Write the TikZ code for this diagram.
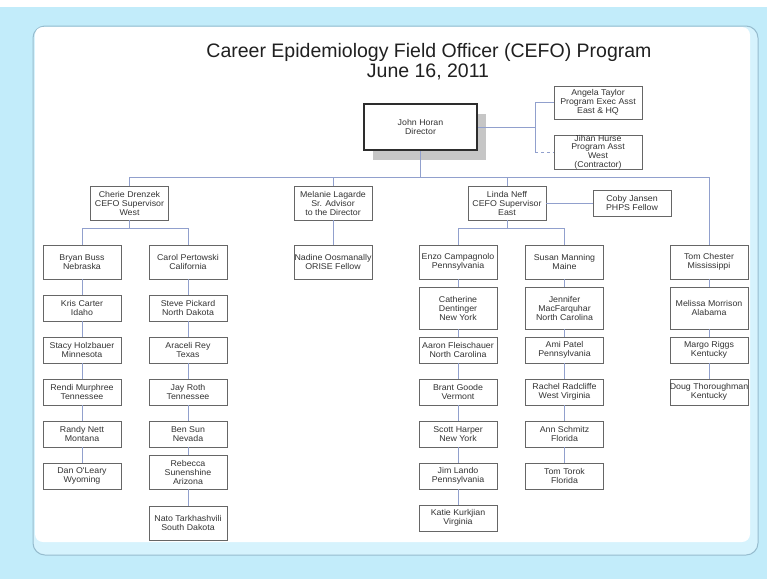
\documentclass[tikz,border=0pt]{standalone}
\usepackage{fontspec}
\setmainfont{Liberation Sans}
\newfontfamily\boxfont[FakeStretch=1.05]{Liberation Sans}
\usepackage{tikz}
\usetikzlibrary{positioning,shadows}
\definecolor{bgblue}{RGB}{194,236,250}
\definecolor{bandblue}{RGB}{214,243,253}
\definecolor{rimblue}{RGB}{150,188,206}
\definecolor{linkblue}{RGB}{145,160,205}
\tikzstyle{person} = [rectangle, draw=gray!80!black, fill=white, align=center,
    text=gray!40!black, minimum width=78pt, minimum height=26pt,
    inner xsep=0pt, inner ysep=1pt,
    font=\boxfont\fontsize{8.4}{9}\selectfont]
\tikzstyle{lead} = [person, minimum height=34pt]
\tikzstyle{tall} = [person, minimum height=42pt]
\tikzstyle{chief} = [person, draw=gray!35!black, line width=2.4pt,
    minimum width=113pt, minimum height=46pt,
    drop shadow={shadow xshift=9pt, shadow yshift=-10pt, fill=gray!45, opacity=1}]
\tikzstyle{link} = [draw=linkblue, line width=0.8pt]
\tikzstyle{heading} = [anchor=base, font=\fontsize{19.5}{22}\selectfont, text=gray!25!black]

\begin{document}
\begin{tikzpicture}[x=1pt, y=-1pt, node distance=42pt]
  \useasboundingbox (0,0) rectangle (767,579);
  % Background and panel
  \fill[white] (0,0) rectangle (767,7);
  \fill[bgblue] (0,7) rectangle (767,579);
  \draw[rimblue, fill=bandblue, line width=1pt, rounded corners=12pt] (33,26) rectangle (758,555);
  \fill[white, rounded corners=8pt] (35,27) rectangle (750,542);
  % Title
  \node [heading] (title) at (429,57) {Career Epidemiology Field Officer (CEFO) Program};
  \node [heading] (date) at (428,77) {June 16, 2011};
  % Place nodes
  \node [chief] (horan) at (420.5,127) {John Horan\\Director};
  \node [person, minimum width=88pt, minimum height=33pt] (taylor) at (598,102.5)
  {Angela Taylor\\Program Exec Asst\\East \& HQ};
  \node [person, minimum width=88pt, minimum height=34pt, inner ysep=0pt,
  font=\boxfont\fontsize{8.4}{8.6}\selectfont] (hurse) at (598,152)
  {Jihan Hurse\\Program Asst\\West\\(Contractor)};
  \node [lead] (drenzek) at (129.5,203) {Cherie Drenzek\\CEFO Supervisor\\West};
  \node [lead] (lagarde) at (333,203) {Melanie Lagarde\\Sr. Advisor\\to the Director};
  \node [lead] (neff) at (507,203) {Linda Neff\\CEFO Supervisor\\East};
  \node [person] (jansen) at (632,203) {Coby Jansen\\PHPS Fellow};
  % West, first column
  \node [lead] (buss) at (82,262) {Bryan Buss\\Nebraska};
  \node [person, below of=buss, node distance=46pt] (carter) {Kris Carter\\Idaho};
  \node [person, below of=carter] (holzbauer) {Stacy Holzbauer\\Minnesota};
  \node [person, below of=holzbauer] (murphree) {Rendi Murphree\\Tennessee};
  \node [person, below of=murphree] (nett) {Randy Nett\\Montana};
  \node [person, below of=nett] (oleary) {Dan O'Leary\\Wyoming};
  % West, second column
  \node [lead] (pertowski) at (188,262) {Carol Pertowski\\California};
  \node [person, below of=pertowski, node distance=46pt] (pickard) {Steve Pickard\\North Dakota};
  \node [person, below of=pickard] (rey) {Araceli Rey\\Texas};
  \node [person, below of=rey] (roth) {Jay Roth\\Tennessee};
  \node [person, below of=roth] (sun) {Ben Sun\\Nevada};
  \node [lead, below of=sun, node distance=38pt, inner ysep=0pt] (sunenshine)
  {Rebecca\\Sunenshine\\Arizona};
  \node [lead, below of=sunenshine, node distance=51pt] (tarkhashvili)
  {Nato Tarkhashvili\\South Dakota};
  % Advisor
  \node [lead] (oosmanally) at (333,262) {Nadine Oosmanally\\ORISE Fellow};
  % East, first column
  \node [lead] (campagnolo) at (458,262) {Enzo Campagnolo\\Pennsylvania};
  \node [tall, below of=campagnolo, node distance=46pt] (dentinger)
  {Catherine\\Dentinger\\New York};
  \node [person, below of=dentinger] (fleischauer) {Aaron Fleischauer\\North Carolina};
  \node [person, below of=fleischauer] (goode) {Brant Goode\\Vermont};
  \node [person, below of=goode] (harper) {Scott Harper\\New York};
  \node [person, below of=harper] (lando) {Jim Lando\\Pennsylvania};
  \node [person, below of=lando] (kurkjian) {Katie Kurkjian\\Virginia};
  % East, second column
  \node [lead] (manning) at (564.5,262) {Susan Manning\\Maine};
  \node [tall, below of=manning, node distance=46pt] (macfarquhar)
  {Jennifer\\MacFarquhar\\North Carolina};
  \node [person, below of=macfarquhar] (patel) {Ami Patel\\Pennsylvania};
  \node [person, below of=patel] (radcliffe) {Rachel Radcliffe\\West Virginia};
  \node [person, below of=radcliffe] (schmitz) {Ann Schmitz\\Florida};
  \node [person, below of=schmitz] (torok) {Tom Torok\\Florida};
  % Right column
  \node [lead] (chester) at (709,262) {Tom Chester\\Mississippi};
  \node [tall, below of=chester, node distance=46pt] (morrison) {Melissa Morrison\\Alabama};
  \node [person, below of=morrison] (riggs) {Margo Riggs\\Kentucky};
  \node [person, below of=riggs] (thoroughman) {Doug Thoroughman\\Kentucky};
  % Draw edges
  \coordinate (split) at (535,127);
  \draw [link] (horan.east) -- (split);
  \draw [link] (split) |- (taylor.west);
  \draw [link] (split) -- (split |- hurse.west);
  \draw [link, dashed] (split |- hurse.west) -- (hurse.west);
  \draw [link] (drenzek.north) -- ++(0,-8) -| (chester.north);
  \draw [link] (horan.south) -- (horan.south |- 0,178);
  \draw [link] (lagarde.north) -- (lagarde.north |- 0,178);
  \draw [link] (neff.north) -- (neff.north |- 0,178);
  \draw [link] (lagarde) -- (oosmanally);
  \draw [link] (neff) -- (jansen);
  \coordinate [below=8pt of drenzek] (westbus);
  \coordinate [below=8pt of neff] (eastbus);
  \draw [link] (drenzek) -- (westbus);
  \draw [link] (buss.north) |- (westbus) -| (pertowski.north);
  \draw [link] (neff) -- (eastbus);
  \draw [link] (campagnolo.north) |- (eastbus) -| (manning.north);
  \foreach \a/\b in {buss/carter, carter/holzbauer, holzbauer/murphree,
    murphree/nett, nett/oleary, pertowski/pickard, pickard/rey, rey/roth,
    roth/sun, sun/sunenshine, sunenshine/tarkhashvili,
    campagnolo/dentinger, dentinger/fleischauer, fleischauer/goode,
    goode/harper, harper/lando, lando/kurkjian,
    manning/macfarquhar, macfarquhar/patel, patel/radcliffe,
    radcliffe/schmitz, schmitz/torok,
    chester/morrison, morrison/riggs, riggs/thoroughman}
    \draw [link] (\a) -- (\b);
\end{tikzpicture}
\end{document}
